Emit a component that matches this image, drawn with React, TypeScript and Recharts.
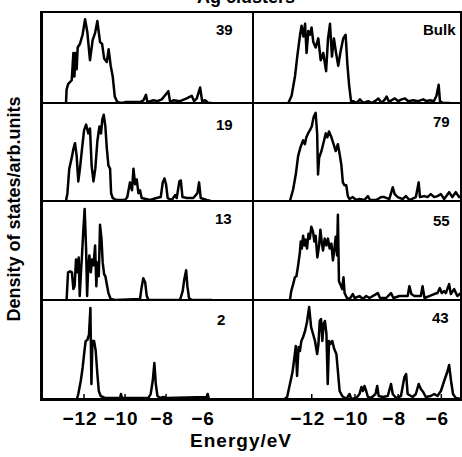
import { LineChart, Line, XAxis, YAxis } from "recharts";

type Pt = [number, number];

// [energy in eV, DOS in % of panel height]
const dos39: Pt[] = [
  [-12.88, 0], [-12.85, 15], [-12.77, 21], [-12.6, 25], [-12.52, 55], [-12.47, 29],
  [-12.42, 55], [-12.36, 37], [-12.31, 61], [-12.2, 65], [-12.07, 75], [-11.95, 92],
  [-11.84, 78], [-11.71, 47], [-11.58, 69], [-11.46, 77], [-11.35, 90], [-11.22, 67],
  [-11.12, 65], [-11.02, 49], [-10.89, 45], [-10.8, 59], [-10.7, 41], [-10.6, 29],
  [-10.5, 7], [-10.38, 1], [-10.16, 0], [-9.95, 1], [-9.27, 1], [-9.1, 3], [-8.98, 9],
  [-8.91, 1], [-8.62, 3], [-8.42, 2], [-8.21, 4], [-7.89, 13], [-7.8, 1], [-7.64, 3],
  [-7.32, 2], [-6.99, 5], [-6.75, 8], [-6.63, 2], [-6.5, 5], [-6.34, 17], [-6.24, 2],
  [-6.1, 3], [-5.94, 0], [-5.77, 0],
];

const dos19: Pt[] = [
  [-12.88, 0], [-12.81, 8], [-12.72, 33], [-12.6, 44], [-12.52, 53], [-12.44, 59],
  [-12.36, 46], [-12.28, 20], [-12.2, 33], [-12.11, 51], [-12.0, 72], [-11.9, 78],
  [-11.79, 69], [-11.71, 74], [-11.63, 36], [-11.54, 20], [-11.45, 33], [-11.35, 61],
  [-11.25, 76], [-11.17, 69], [-11.11, 83], [-11.04, 88], [-10.96, 76], [-10.89, 54],
  [-10.81, 36], [-10.73, 33], [-10.68, 8], [-10.6, 3], [-10.41, 1], [-10.0, 1],
  [-9.89, 4], [-9.76, 19], [-9.66, 11], [-9.59, 33], [-9.51, 17], [-9.43, 22],
  [-9.35, 8], [-9.27, 11], [-9.19, 3], [-8.78, 1], [-8.46, 3], [-8.26, 4], [-8.16, 19],
  [-8.08, 23], [-8.0, 17], [-7.92, 3], [-7.72, 1], [-7.56, 6], [-7.48, 3], [-7.35, 20],
  [-7.28, 21], [-7.2, 4], [-6.99, 3], [-6.67, 3], [-6.47, 8], [-6.39, 19], [-6.31, 3],
  [-6.02, 1], [-5.82, 0],
];

const dos13: Pt[] = [
  [-12.85, 0], [-12.78, 28], [-12.68, 29], [-12.59, 28], [-12.52, 11], [-12.46, 14],
  [-12.39, 41], [-12.33, 28], [-12.26, 43], [-12.21, 4], [-12.16, 24], [-12.1, 45],
  [-12.03, 72], [-11.97, 92], [-11.9, 52], [-11.85, 4], [-11.8, 31], [-11.74, 45],
  [-11.67, 28], [-11.61, 41], [-11.54, 35], [-11.46, 55], [-11.4, 14], [-11.35, 38],
  [-11.28, 24], [-11.22, 76], [-11.15, 62], [-11.09, 38], [-11.02, 26], [-10.96, 24],
  [-10.89, 16], [-10.81, 7], [-10.7, 1], [-10.49, 0], [-9.27, 1], [-9.19, 13],
  [-9.11, 22], [-9.02, 18], [-8.94, 4], [-8.86, 0], [-7.32, 0], [-7.19, 9], [-7.11, 21],
  [-7.02, 30], [-6.96, 14], [-6.88, 2], [-6.75, 0], [-5.77, 0],
];

const dos2: Pt[] = [
  [-12.36, 0], [-12.28, 6], [-12.16, 19], [-12.07, 32], [-11.98, 49], [-11.92, 59],
  [-11.84, 60], [-11.76, 65], [-11.69, 92], [-11.64, 16], [-11.59, 59], [-11.51, 59],
  [-11.43, 49], [-11.35, 26], [-11.28, 9], [-11.19, 4], [-10.98, 2], [-10.24, 2],
  [-10.2, 6], [-10.15, 2], [-8.86, 2], [-8.75, 6], [-8.65, 19], [-8.57, 37], [-8.5, 16],
  [-8.42, 4], [-8.29, 2], [-8.13, 3], [-7.97, 2], [-6.02, 3], [-5.97, 6], [-5.92, 2],
];

const dosBulk: Pt[] = [
  [-13.09, 0], [-12.94, 8], [-12.78, 30], [-12.68, 51], [-12.55, 75], [-12.48, 85],
  [-12.4, 73], [-12.32, 87], [-12.25, 55], [-12.17, 79], [-12.09, 75], [-12.02, 83],
  [-11.94, 67], [-11.83, 61], [-11.71, 71], [-11.6, 47], [-11.48, 55], [-11.35, 35],
  [-11.26, 71], [-11.17, 87], [-11.08, 51], [-10.99, 71], [-10.89, 55], [-10.79, 41],
  [-10.68, 57], [-10.56, 71], [-10.45, 75], [-10.37, 43], [-10.29, 20], [-10.2, 2],
  [-10.1, 2], [-9.94, 0], [-9.79, 4], [-9.63, 0], [-9.4, 2], [-9.25, 0], [-9.1, 2],
  [-8.94, 5], [-8.79, 0], [-8.64, 4], [-8.56, 7], [-8.44, 1], [-8.33, 3], [-8.18, 5],
  [-8.02, 2], [-7.87, 4], [-7.71, 5], [-7.56, 2], [-7.33, 3], [-7.1, 2], [-6.87, 4],
  [-6.72, 2], [-6.56, 3], [-6.38, 2], [-6.26, 8], [-6.16, 20], [-6.1, 2], [-5.95, 0],
  [-5.64, 0],
];

const dos79: Pt[] = [
  [-13.01, 0], [-12.86, 12], [-12.74, 27], [-12.63, 46], [-12.52, 55], [-12.4, 62],
  [-12.32, 58], [-12.25, 65], [-12.17, 69], [-12.09, 72], [-12.0, 76], [-11.91, 86],
  [-11.82, 90], [-11.75, 69], [-11.71, 27], [-11.66, 44], [-11.55, 51], [-11.45, 60],
  [-11.35, 69], [-11.28, 65], [-11.2, 71], [-11.09, 65], [-10.99, 58], [-10.89, 51],
  [-10.79, 58], [-10.71, 48], [-10.63, 37], [-10.56, 19], [-10.48, 16], [-10.4, 16],
  [-10.33, 5], [-10.25, 2], [-10.1, 4], [-9.94, 1], [-9.79, 2], [-9.56, 1], [-9.4, 5],
  [-9.3, 1], [-9.02, 1], [-8.79, 4], [-8.64, 4], [-8.41, 2], [-8.25, 14], [-8.16, 7],
  [-8.02, 4], [-7.79, 2], [-7.64, 5], [-7.48, 1], [-7.18, 4], [-7.05, 19], [-6.99, 4],
  [-6.79, 5], [-6.64, 4], [-6.49, 7], [-6.33, 4], [-6.18, 5], [-6.02, 7], [-5.87, 2],
  [-5.64, 9], [-5.49, 4], [-5.33, 9], [-5.18, 4], [-5.09, 5],
];

const dos55: Pt[] = [
  [-13.01, 0], [-12.95, 9], [-12.86, 16], [-12.78, 23], [-12.71, 24], [-12.63, 35],
  [-12.55, 48], [-12.51, 59], [-12.46, 52], [-12.4, 65], [-12.34, 55], [-12.28, 61],
  [-12.22, 52], [-12.15, 67], [-12.09, 62], [-12.02, 74], [-11.94, 69], [-11.88, 59],
  [-11.82, 65], [-11.74, 43], [-11.66, 55], [-11.6, 71], [-11.54, 59], [-11.48, 50],
  [-11.4, 62], [-11.32, 55], [-11.25, 62], [-11.17, 52], [-11.09, 57], [-11.02, 40],
  [-10.96, 50], [-10.89, 64], [-10.83, 45], [-10.79, 86], [-10.74, 19], [-10.68, 16],
  [-10.59, 11], [-10.53, 23], [-10.48, 7], [-10.37, 2], [-10.25, 1], [-10.1, 6],
  [-10.02, 2], [-9.79, 4], [-9.63, 1], [-9.48, 4], [-9.33, 2], [-8.94, 7], [-8.84, 2],
  [-8.56, 2], [-8.33, 7], [-8.22, 2], [-7.94, 4], [-7.56, 4], [-7.48, 14], [-7.39, 6],
  [-7.25, 4], [-6.95, 4], [-6.87, 14], [-6.78, 2], [-6.56, 4], [-6.33, 6], [-6.18, 7],
  [-6.07, 12], [-5.98, 7], [-5.87, 9], [-5.79, 7], [-5.64, 16], [-5.56, 6], [-5.41, 11],
  [-5.26, 4], [-5.09, 7],
];

const dos43: Pt[] = [
  [-13.32, 0], [-13.14, 3], [-13.01, 16], [-12.89, 28], [-12.8, 43], [-12.74, 54],
  [-12.68, 24], [-12.61, 53], [-12.55, 49], [-12.48, 59], [-12.4, 63], [-12.31, 69],
  [-12.22, 78], [-12.12, 93], [-12.03, 73], [-11.94, 66], [-11.85, 59], [-11.75, 46],
  [-11.69, 56], [-11.63, 79], [-11.57, 81], [-11.51, 59], [-11.45, 76], [-11.39, 79],
  [-11.32, 66], [-11.26, 16], [-11.2, 59], [-11.14, 56], [-11.05, 59], [-10.96, 51],
  [-10.86, 46], [-10.79, 29], [-10.71, 9], [-10.59, 4], [-10.4, 1], [-10.25, 6],
  [-10.17, 1], [-9.94, 2], [-9.79, 6], [-9.7, 13], [-9.63, 9], [-9.56, 14], [-9.48, 9],
  [-9.4, 3], [-9.25, 2], [-9.05, 6], [-8.97, 14], [-8.9, 4], [-8.71, 3], [-8.48, 4],
  [-8.33, 16], [-8.25, 6], [-8.1, 2], [-7.87, 4], [-7.71, 23], [-7.63, 26], [-7.56, 6],
  [-7.33, 3], [-7.18, 6], [-7.05, 16], [-6.95, 11], [-6.84, 8], [-6.72, 3], [-6.49, 4],
  [-6.33, 6], [-6.18, 4], [-6.02, 9], [-5.87, 19], [-5.71, 29], [-5.64, 35], [-5.55, 19],
  [-5.46, 6], [-5.33, 2], [-5.09, 1],
];

const leftSeries = [dos39, dos19, dos13, dos2];
const rightSeries = [dosBulk, dos79, dos55, dos43];
const leftLabels = ["39", "19", "13", "2"];
const rightLabels = ["Bulk", "79", "55", "43"];

const energyTicks = [-12, -10, -8, -6];
const tickLabels = ["−12", "−10", "−8", "−6"];

const leftDomain: [number, number] = [-14.05, -3.76];
const rightDomain: [number, number] = [-14.72, -5.13];

// layout
const FONT = "'Liberation Sans', Arial, Helvetica, sans-serif";
const COL_X = [42, 253];
const COL_W = [211, 208];
const ROW_Y = [12, 103, 201, 300, 400];
const AXIS_H = 40;
// top-left corner of each panel tag
const leftTagPos = [[216, 22], [216, 117], [215, 211], [217, 312]];
const rightTagPos = [[423, 22], [433, 114], [433, 213], [432, 310]];

function Panel({
  points,
  domain,
  width,
  height,
  withLabels,
}: {
  points: Pt[];
  domain: [number, number];
  width: number;
  height: number;
  withLabels: boolean;
}) {
  const rows = points.map(([e, v]) => ({ e, v }));
  return (
    <LineChart
      width={width}
      height={height + (withLabels ? AXIS_H : 0)}
      data={rows}
      margin={{ top: 0, right: 0, bottom: 0, left: 0 }}
    >
      <XAxis
        dataKey="e"
        type="number"
        domain={domain}
        ticks={energyTicks}
        interval={0}
        height={withLabels ? AXIS_H : 0}
        axisLine={false}
        tickSize={-6}
        tickMargin={18}
        tickLine={{ stroke: "#000", strokeWidth: 1.5 }}
        tick={
          withLabels
            ? { fill: "#000", fontSize: 19, fontWeight: 700, fontFamily: FONT, letterSpacing: 1, dx: -4 }
            : false
        }
        tickFormatter={(v: number) => tickLabels[energyTicks.indexOf(v)]}
      />
      <YAxis type="number" domain={[0, 100]} hide />
      <Line
        dataKey="v"
        type="linear"
        stroke="#000"
        strokeWidth={2.5}
        strokeLinejoin="round"
        dot={false}
        isAnimationActive={false}
      />
    </LineChart>
  );
}

export default function App() {
  const abs = { position: "absolute" as const };
  return (
    <div
      style={{
        position: "absolute",
        left: 0,
        top: 0,
        width: 462,
        height: 457,
        overflow: "hidden",
        background: "#fff",
        fontFamily: FONT,
        color: "#000",
      }}
    >
      {/* frame */}
      <div
        style={{
          ...abs,
          left: 40,
          top: 11,
          width: 422,
          height: 390,
          boxSizing: "border-box",
          borderLeft: "3px solid #000",
          borderTop: "2px solid #000",
          borderBottom: "3px solid #000",
          borderRight: "2px solid #000",
        }}
      />
      <div style={{ ...abs, left: 252, top: 11, width: 2, height: 390, background: "#000" }} />
      {ROW_Y.slice(1, 4).map((y) => (
        <div key={y} style={{ ...abs, left: 40, top: y - 1, width: 422, height: 2, background: "#000" }} />
      ))}

      {[leftSeries, rightSeries].map((col, c) =>
        col.map((pts, r) => (
          <div
            key={`${c}-${r}`}
            style={{ ...abs, left: COL_X[c], top: ROW_Y[r] }}
          >
            <Panel
              points={pts}
              domain={c === 0 ? leftDomain : rightDomain}
              width={COL_W[c]}
              height={ROW_Y[r + 1] - ROW_Y[r]}
              withLabels={r === 3}
            />
          </div>
        ))
      )}

      {leftLabels.map((t, i) => (
        <div
          key={t}
          style={{ ...abs, left: leftTagPos[i][0], top: leftTagPos[i][1], fontSize: 15, fontWeight: 700, lineHeight: "15px" }}
        >
          {t}
        </div>
      ))}
      {rightLabels.map((t, i) => (
        <div
          key={t}
          style={{ ...abs, left: rightTagPos[i][0], top: rightTagPos[i][1], fontSize: 15, fontWeight: 700, lineHeight: "15px" }}
        >
          {t}
        </div>
      ))}

      <div
        style={{ ...abs, left: 146, top: -12, width: 200, textAlign: "center", fontSize: 18, fontWeight: 700, lineHeight: "18px" }}
      >
        Ag clusters
      </div>
      <div
        style={{
          ...abs,
          left: 14 - 160,
          top: 209 - 10,
          width: 320,
          height: 20,
          lineHeight: "20px",
          textAlign: "center",
          fontSize: 18,
          fontWeight: 700,
          transform: "rotate(-90deg)",
        }}
      >
        Density of states/arb.units
      </div>
      <div
        style={{ ...abs, left: 141, top: 431, width: 200, textAlign: "center", fontSize: 19, fontWeight: 700, lineHeight: "19px", letterSpacing: 1 }}
      >
        Energy/eV
      </div>
    </div>
  );
}
